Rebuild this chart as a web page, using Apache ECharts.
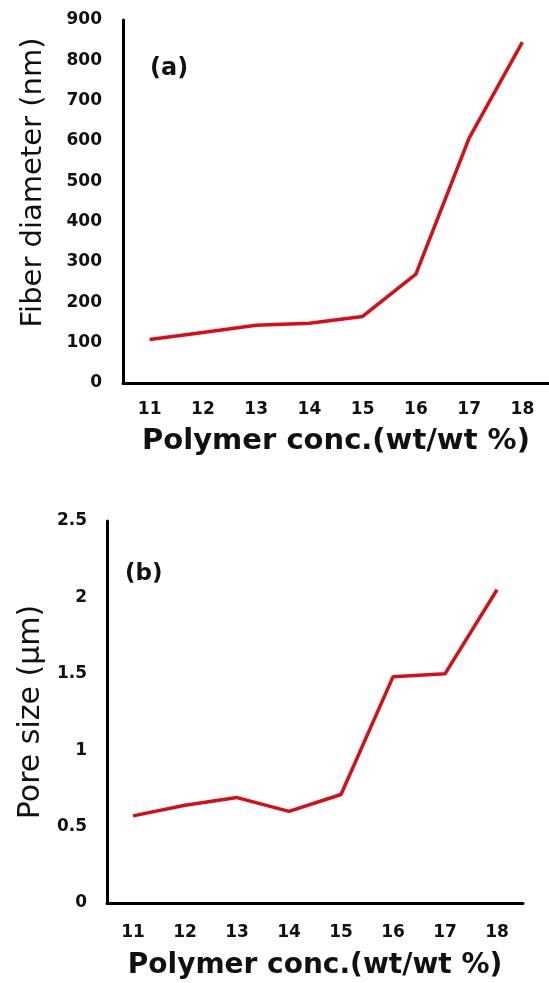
<!DOCTYPE html>
<html>
<head>
<meta charset="utf-8">
<script src="https://cdn.jsdelivr.net/npm/echarts@6/dist/echarts.min.js"></script>
<style>
  html, body { margin: 0; padding: 0; background: #fff; }
  #chart { width: 549px; height: 983px; }
</style>
</head>
<body>
<div id="chart"></div>
<script>
// polymer concentration (wt/wt %)
var conc = ['11', '12', '13', '14', '15', '16', '17', '18'];
// (a) fiber diameter, nm
var fiberDiameter = [108, 125, 143, 148, 165, 270, 607, 845];
// (b) pore size, um
var poreSize = [0.57, 0.64, 0.69, 0.60, 0.71, 1.48, 1.50, 2.05];

var font = 'DejaVu Sans';
var red = '#dc0c16';

var myChart = echarts.init(document.getElementById('chart'));

function xAxis(idx, gap, size) {
    return {
        type: 'category',
        gridIndex: idx,
        data: conc,
        boundaryGap: true,
        name: 'Polymer conc.(wt/wt %)',
        nameLocation: 'middle',
        nameGap: gap,
        nameTextStyle: { fontFamily: font, fontWeight: 'bold', fontSize: size, color: '#111' },
        axisLine: { lineStyle: { color: '#000', width: 3 } },
        axisTick: { show: false },
        axisLabel: { margin: idx === 0 ? 18 : 21, fontFamily: font, fontWeight: 'bold', fontSize: 17, color: '#111' },
        splitLine: { show: false }
    };
}

myChart.setOption({
    animation: false,
    backgroundColor: '#fff',
    grid: [
        { left: 123, top: 20, width: 437, height: 363 },
        { left: 107, top: 521, width: 416, height: 382 }
    ],
    xAxis: [xAxis(0, 44, 29), xAxis(1, 49, 28)],
    yAxis: [
        {
            type: 'value',
            gridIndex: 0,
            min: 0, max: 900, interval: 100,
            name: 'Fiber diameter (nm)',
            nameLocation: 'middle',
            nameRotate: 90,
            nameGap: 75,
            nameTextStyle: { fontFamily: font, fontSize: 29, color: '#111', padding: [0, 0, 0, 38] },
            axisLine: { show: true, lineStyle: { color: '#000', width: 3 } },
            axisTick: { show: false },
            axisLabel: { margin: 21, fontFamily: font, fontWeight: 'bold', fontSize: 17, color: '#111' },
            splitLine: { show: false }
        },
        {
            type: 'value',
            gridIndex: 1,
            min: 0, max: 2.5, interval: 0.5,
            name: 'Pore size (μm)',
            nameLocation: 'middle',
            nameRotate: 90,
            nameGap: 60,
            nameTextStyle: { fontFamily: font, fontSize: 30, color: '#111' },
            axisLine: { show: true, lineStyle: { color: '#000', width: 3 } },
            axisTick: { show: false },
            axisLabel: { margin: 20, fontFamily: font, fontWeight: 'bold', fontSize: 17, color: '#111' },
            splitLine: { show: false }
        }
    ],
    graphic: [
        { type: 'text', left: 150, top: 57, style: { text: '(a)', font: 'bold 24px "DejaVu Sans"', fill: '#111' } },
        { type: 'text', left: 125, top: 563, style: { text: '(b)', font: 'bold 23px "DejaVu Sans"', fill: '#111' } }
    ],
    series: [
        {
            type: 'line',
            xAxisIndex: 0, yAxisIndex: 0,
            data: fiberDiameter,
            showSymbol: false,
            lineStyle: { color: red, width: 3.5 }
        },
        {
            type: 'line',
            xAxisIndex: 1, yAxisIndex: 1,
            data: poreSize,
            showSymbol: false,
            lineStyle: { color: red, width: 3.5 }
        }
    ]
});
</script>
</body>
</html>
